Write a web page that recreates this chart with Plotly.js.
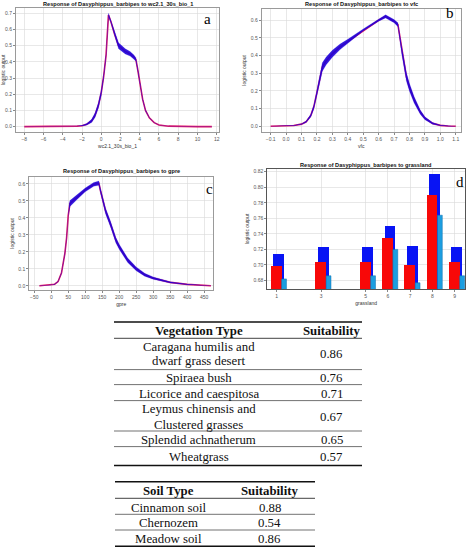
<!DOCTYPE html>
<html><head><meta charset="utf-8">
<script src="https://cdn.plot.ly/plotly-3.0.1.min.js"></script>
<style>html,body{margin:0;padding:0;background:#fff}#chart{width:468px;height:550px}</style>
</head><body><div id="chart"></div>
<script>
// ---- Panel a: response to wc2.1_30s_bio_1 ----
var aX    = [-8, -6, -4, -3, -2.5, -2, -1.7, -1.5, -1, -0.65, -0.3, 0, 0.25, 0.5, 0.75, 1.0, 1.4, 1.8, 2.5, 3.0, 3.4, 3.6, 3.8, 4.0, 4.3, 4.6, 5.0, 5.5, 6.0, 7.0, 8.0, 10, 11.5];
var aMean = [0, 0, 0.001, 0.002, 0.003, 0.006, 0.01, 0.015, 0.035, 0.07, 0.13, 0.21, 0.31, 0.44, 0.69, 0.65, 0.57, 0.50, 0.465, 0.45, 0.43, 0.415, 0.35, 0.27, 0.17, 0.10, 0.055, 0.025, 0.01, 0.003, 0.001, 0, 0];
var aSd   = [0, 0, 0, 0, 0.001, 0.002, 0.003, 0.005, 0.01, 0.014, 0.017, 0.017, 0.014, 0.01, 0.01, 0.008, 0.01, 0.018, 0.016, 0.014, 0.013, 0.011, 0.009, 0.007, 0.005, 0.004, 0.002, 0.001, 0, 0, 0, 0, 0];
// ---- Panel b: response to vfc ----
var bX    = [-0.1, 0.0, 0.05, 0.1, 0.13, 0.16, 0.18, 0.2, 0.22, 0.235, 0.26, 0.3, 0.35, 0.4, 0.5, 0.6, 0.645, 0.7, 0.725, 0.75, 0.78, 0.8, 0.83, 0.87, 0.9, 0.95, 1.0, 1.05, 1.1];
var bMean = [0, 0.001, 0.004, 0.012, 0.025, 0.06, 0.11, 0.19, 0.28, 0.335, 0.37, 0.41, 0.45, 0.48, 0.545, 0.60, 0.622, 0.595, 0.575, 0.43, 0.28, 0.22, 0.15, 0.08, 0.045, 0.016, 0.005, 0.001, 0];
var bSd   = [0, 0, 0.001, 0.002, 0.004, 0.008, 0.012, 0.016, 0.02, 0.024, 0.022, 0.02, 0.016, 0.012, 0.006, 0.006, 0.009, 0.009, 0.011, 0.022, 0.024, 0.022, 0.018, 0.012, 0.008, 0.005, 0.002, 0.001, 0];
// ---- Panel c: response to gpre ----
var cX    = [-35, 0, 10, 20, 30, 40, 45, 50, 53, 55, 75, 100, 125, 140, 145, 160, 175, 190, 200, 225, 250, 275, 300, 350, 400, 450, 470];
var cMean = [0, 0.004, 0.009, 0.025, 0.075, 0.19, 0.28, 0.417, 0.47, 0.485, 0.52, 0.565, 0.598, 0.605, 0.56, 0.44, 0.36, 0.27, 0.23, 0.15, 0.10, 0.065, 0.045, 0.02, 0.008, 0.002, 0];
var cSd   = [0, 0, 0.001, 0.002, 0.003, 0.004, 0.005, 0.008, 0.015, 0.017, 0.013, 0.011, 0.011, 0.013, 0.014, 0.017, 0.017, 0.016, 0.015, 0.013, 0.011, 0.009, 0.007, 0.004, 0.002, 0.001, 0];
// ---- Panel d: response to grassland (categorical) ----
var dCats  = [1, 3, 5, 6, 7, 8, 9];
var dUpper = [0.714, 0.723, 0.723, 0.750, 0.724, 0.817, 0.723];
var dMean  = [0.698, 0.704, 0.704, 0.735, 0.700, 0.790, 0.704];
var dLower = [0.682, 0.686, 0.686, 0.720, 0.677, 0.764, 0.686];
// ---- Tables ----
var vegTypes = [["Caragana humilis and", "dwarf grass desert"], ["Spiraea bush"], ["Licorice and caespitosa"], ["Leymus chinensis and", "Clustered grasses"], ["Splendid achnatherum"], ["Wheatgrass"]];
var vegSuit  = ["0.86", "0.76", "0.71", "0.67", "0.65", "0.57"];
var soilTypes = ["Cinnamon soil", "Chernozem", "Meadow soil"];
var soilSuit  = ["0.88", "0.54", "0.86"];

(function(){
var W = 468, H = 550;
function px(x){ return x / W; }
function py(y){ return 1 - y / H; }
function add(arr, sd, sign){ return arr.map(function(v, i){ return v + sign * sd[i]; }); }

var RED = '#f2205a', BAND = 'rgba(28,0,215,0.9)', EDGE = 'rgba(40,0,230,0.18)';
var traces = [];
function curvePanel(x, mean, sd, xa, ya){
  traces.push({x: x, y: mean, xaxis: xa, yaxis: ya, mode: 'lines', line: {color: RED, width: 1.6}, hoverinfo: 'skip', showlegend: false});
  traces.push({x: x, y: add(mean, sd, -1), xaxis: xa, yaxis: ya, mode: 'lines', line: {color: EDGE, width: 1}, hoverinfo: 'skip', showlegend: false});
  traces.push({x: x, y: add(mean, sd, 1), xaxis: xa, yaxis: ya, mode: 'lines', fill: 'tonexty', fillcolor: BAND, line: {color: EDGE, width: 1}, hoverinfo: 'skip', showlegend: false});
}
curvePanel(aX, aMean, aSd, 'x', 'y');
curvePanel(bX, bMean, bSd, 'x2', 'y2');
curvePanel(cX, cMean, cSd, 'x3', 'y3');

traces.push({type: 'bar', x: dCats, y: dUpper, xaxis: 'x4', yaxis: 'y4', offset: -0.15, width: 0.48, marker: {color: '#0814f4', line: {width: 0}}, showlegend: false, hoverinfo: 'skip'});
traces.push({type: 'bar', x: dCats, y: dMean, xaxis: 'x4', yaxis: 'y4', offset: -0.26, width: 0.48, marker: {color: '#f80808', line: {width: 0}}, showlegend: false, hoverinfo: 'skip'});
traces.push({type: 'bar', x: dCats, y: dLower, xaxis: 'x4', yaxis: 'y4', offset: 0.22, width: 0.22, marker: {color: '#1c9ee0', line: {width: 0.5, color: '#0a6fb0'}}, showlegend: false, hoverinfo: 'skip'});

var tickF = {family: 'Liberation Sans, Arial, sans-serif', size: 5, color: '#555'};
var axTitleF = {family: 'Liberation Sans, Arial, sans-serif', size: 5, color: '#333'};
function xax(dom, range, anchor, title, extra){
  var o = {domain: dom, range: range, anchor: anchor, showline: true, mirror: true, linecolor: '#9a9a9a', linewidth: 1,
    showgrid: true, gridcolor: '#d9d9d9', gridwidth: 0.6, zeroline: false, ticks: 'outside', ticklen: 2, tickcolor: '#888',
    tickfont: tickF, title: {text: title, font: axTitleF, standoff: 3}, fixedrange: true};
  for (var k in extra) o[k] = extra[k];
  return o;
}
var layout = {
  width: W, height: H, margin: {l: 0, r: 0, t: 0, b: 0}, paper_bgcolor: '#fff', plot_bgcolor: '#fff', showlegend: false,
  barmode: 'overlay', bargap: 0,
  xaxis:  xax([px(16), px(219)], [-8.86, 12.24], 'y', 'wc2.1_30s_bio_1', {dtick: 2, tick0: 0}),
  yaxis:  xax([py(132), py(8)], [-0.033, 0.733], 'x', 'logistic output', {dtick: 0.1, tickformat: '.1f'}),
  xaxis2: xax([px(261.7), px(460.7)], [-0.158, 1.132], 'y2', 'vfc', {dtick: 0.1, tick0: 0, tickformat: '.1f'}),
  yaxis2: xax([py(131.7), py(9)], [-0.031, 0.664], 'x2', 'logistic output', {dtick: 0.1, tickformat: '.1f'}),
  xaxis3: xax([px(29.3), px(213.3)], [-64.7, 477], 'y3', 'gpre', {dtick: 50, tick0: 0}),
  yaxis3: xax([py(290), py(176.7)], [-0.025, 0.643], 'x3', 'logistic output', {dtick: 0.1, tickformat: '.1f'}),
  xaxis4: xax([px(267.3), px(465)], [0.58, 9.46], 'y4', 'grassland', {tickmode: 'array', tickvals: dCats, ticktext: dCats.map(String), linecolor: '#555'}),
  yaxis4: xax([py(289), py(169)], [0.669, 0.8235], 'x4', 'logistic output', {dtick: 0.02, tick0: 0.68, tickformat: '.2f', linecolor: '#555'}),
  annotations: [], shapes: []
};

var titleF = {family: 'Liberation Sans, Arial, sans-serif', size: 5.6, color: '#111'};
function ann(x, y, text, font, xanchor){
  layout.annotations.push({xref: 'paper', yref: 'paper', x: px(x), y: py(y), text: text, showarrow: false, font: font, xanchor: xanchor || 'center', yanchor: 'middle'});
}
ann(117.5, 4, '<b>Response of Dasyphippus_barbipes to wc2.1_30s_bio_1</b>', titleF);
ann(361, 4.5, '<b>Response of Dasyphippus_barbipes to vfc</b>', titleF);
ann(121, 171.5, '<b>Response of Dasyphippus_barbipes to gpre</b>', titleF);
ann(366, 165, '<b>Response of Dasyphippus_barbipes to grassland</b>', titleF);

var letF = {family: 'Liberation Serif, Times New Roman, serif', size: 15, color: '#000'};
ann(207, 19, 'a', letF); ann(450, 13, 'b', letF); ann(209, 189, 'c', letF); ann(460, 182, 'd', letF);

// ---- tables ----
var tabF = {family: 'Liberation Serif, Times New Roman, serif', size: 12.8, color: '#111'};
function hline(x0, x1, y, w){
  layout.shapes.push({type: 'line', xref: 'paper', yref: 'paper', x0: px(x0), x1: px(x1), y0: py(y), y1: py(y), line: {color: '#111', width: w}});
}
var t1L = 114, t1R = 362, c1 = 198.5, c2 = 331.5;
hline(t1L, t1R, 322, 1.4);
ann(c1, 330.7, '<b>Vegetation Type</b>', tabF); ann(c2, 330.7, '<b>Suitability</b>', tabF);
hline(t1L, t1R, 338.3, 0.8);
var vegRowY = [[346.5, 360.7], [378], [393.7], [409.3, 425], [440], [456.5]];
var vegValY = [353.6, 378, 393.7, 417.2, 440, 456.5];
var vegLineY = [369.6, 384.6, 400.6, 431, 446.6, 465.5];
for (var i = 0; i < vegTypes.length; i++){
  for (var k = 0; k < vegTypes[i].length; k++) ann(c1, vegRowY[i][k], vegTypes[i][k], tabF);
  ann(c2, vegValY[i], vegSuit[i], tabF);
  hline(t1L, t1R, vegLineY[i], i === vegTypes.length - 1 ? 1.4 : 0.6);
}
var t2L = 115, t2R = 315, s1 = 168.5, s2 = 269.5;
hline(t2L, t2R, 481.7, 1.4);
ann(s1, 491, '<b>Soil Type</b>', tabF); ann(s2, 491, '<b>Suitability</b>', tabF);
hline(t2L, t2R, 498.3, 0.8);
var soilRowY = [507.7, 523.3, 539];
var soilLineY = [514.3, 530, 546.3];
for (var j = 0; j < soilTypes.length; j++){
  ann(s1, soilRowY[j], soilTypes[j], tabF); ann(s2, soilRowY[j], soilSuit[j], tabF);
  hline(t2L, t2R, soilLineY[j], j === soilTypes.length - 1 ? 1.4 : 0.6);
}

Plotly.newPlot('chart', traces, layout, {staticPlot: true, displayModeBar: false});
})();
</script></body></html>
